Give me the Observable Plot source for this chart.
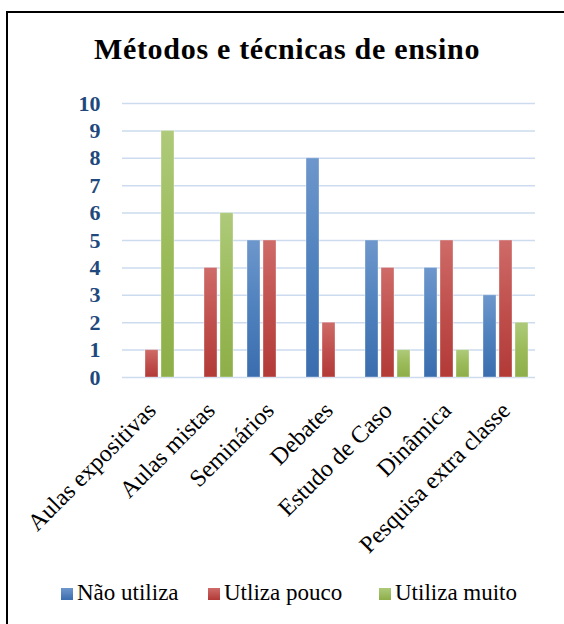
<!DOCTYPE html>
<html><head><meta charset="utf-8">
<script src="https://cdn.jsdelivr.net/npm/d3@7"></script>
<script src="https://cdn.jsdelivr.net/npm/@observablehq/plot@0.6"></script>
<style>
html,body{margin:0;padding:0;background:#fff;width:564px;height:624px;overflow:hidden;}
#wrap{position:relative;width:564px;height:624px;overflow:hidden;font-family:"Liberation Serif","Times New Roman",serif;color:#000;}
#frameTop{position:absolute;left:6px;top:11px;width:558px;height:2px;background:#000;}
#frameLeft{position:absolute;left:6px;top:11px;width:2px;height:613px;background:#000;}
#title{position:absolute;left:10px;width:554px;top:34px;text-align:center;font-family:"Liberation Serif","Times New Roman",serif;font-weight:bold;font-size:30px;line-height:30px;letter-spacing:0.7px;white-space:nowrap;}
#chart{position:absolute;left:0;top:80px;}
#legend{position:absolute;left:0;top:572px;}
</style>
</head><body>
<div id="wrap">
  <div id="frameTop"></div>
  <div id="frameLeft"></div>
  <div id="title">Métodos e técnicas de ensino</div>
  <div id="chart"></div>
  <div id="legend"></div>
</div>
<script>
const categories = ["Aulas expositivas","Aulas mistas","Seminários","Debates","Estudo de Caso","Dinâmica","Pesquisa extra classe"];
const series = ["Não utiliza","Utliza pouco","Utiliza muito"];
const naoUtiliza   = [0,0,5,8,5,4,3];
const utlizaPouco  = [1,4,5,2,4,5,5];
const utilizaMuito = [9,6,0,0,1,1,2];
const seriesColors = ["#4F81BD","#C0504D","#9BBB59"];
const gradTop = ["#6D97CC","#CE6B68","#AECA7A"];
const gradBottom = ["#3A6DAE","#B23A37","#8DAE48"];

const values = [naoUtiliza, utlizaPouco, utilizaMuito];
const data = categories.flatMap((c, i) => series.map((s, j) => ({category: c, series: s, value: values[j][i]})));
const gradIds = ["gBlue","gRed","gGreen"];

const chart = Plot.plot({
  width: 564,
  height: 490,
  marginLeft: 119,
  marginRight: 27,
  marginTop: 23,
  marginBottom: 193,
  style: {fontFamily: "'Liberation Serif','Times New Roman',serif", background: "transparent"},
  facet: {data, x: "category"},
  fx: {domain: categories, padding: 0, axis: "bottom", label: null, tickRotate: -45, tickSize: 0, tickPadding: 29},
  x: {domain: series, axis: null, paddingInner: 0.17, paddingOuter: 0.39},
  y: {domain: [0, 10], ticks: 10, tickSize: 0, tickPadding: 22, label: null, tickFormat: d => String(d)},
  color: {domain: series, range: gradIds.map(id => `url(#${id})`)},
  marks: [
    Plot.ruleY(d3.range(0, 11), {stroke: "#cddbee", strokeWidth: 1.5}),
    Plot.barY(data, {x: "series", y: "value", fill: "series", stroke: "#ffffff", strokeOpacity: 0.35, strokeWidth: 1})
  ]
});

const svg = d3.select(chart);
const defs = svg.insert("defs", ":first-child");
gradIds.forEach((id, i) => {
  const g = defs.append("linearGradient").attr("id", id).attr("x1", 0).attr("y1", 0).attr("x2", 0).attr("y2", 1);
  g.append("stop").attr("offset", "0%").attr("stop-color", gradTop[i]);
  g.append("stop").attr("offset", "50%").attr("stop-color", seriesColors[i]);
  g.append("stop").attr("offset", "100%").attr("stop-color", gradBottom[i]);
});

svg.selectAll('[aria-label^="y-axis"] text')
  .style("font-size", "22px").style("font-weight", "bold").style("fill", "#1F497D");
svg.selectAll('[aria-label^="fx-axis"] text')
  .style("font-size", "24px").style("fill", "#000");

document.getElementById("chart").appendChild(chart);

// Legend drawn as SVG so it uses the same serif font as the chart
const legendLeft = [61, 208, 379];
const lg = d3.select("#legend").append("svg").attr("width", 564).attr("height", 40)
  .style("font-family", "'Liberation Serif','Times New Roman',serif");
const lgDefs = lg.append("defs");
series.forEach((s, i) => {
  const g = lgDefs.append("linearGradient").attr("id", "lg" + i).attr("x1", 0).attr("y1", 0).attr("x2", 0).attr("y2", 1);
  g.append("stop").attr("offset", "0%").attr("stop-color", gradTop[i]);
  g.append("stop").attr("offset", "100%").attr("stop-color", gradBottom[i]);
  lg.append("rect").attr("x", legendLeft[i]).attr("y", 16).attr("width", 12).attr("height", 12).attr("fill", `url(#lg${i})`);
  lg.append("text").attr("x", legendLeft[i] + 16).attr("y", 28)
    .attr("font-size", 23).attr("fill", "#000").text(s);
});
</script>
</body></html>
